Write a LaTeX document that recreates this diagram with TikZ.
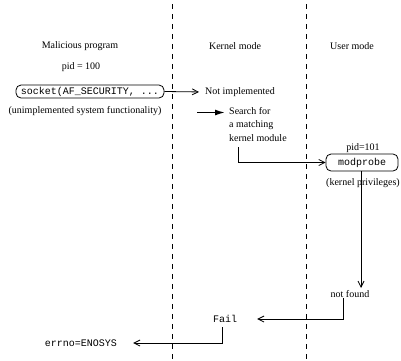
\documentclass[tikz,border=0pt]{standalone}
\usepackage{fontspec}
\setmainfont{Liberation Serif}
\setmonofont{Liberation Mono}
\usetikzlibrary{arrows.meta}
\begin{document}
\begin{tikzpicture}[x=1pt,y=-1pt,
 lbl/.style={font=\fontsize{10}{13.5}\selectfont, inner sep=1pt},
 ttl/.style={font=\fontsize{10}{12}\selectfont\ttfamily, inner sep=1pt},
 box/.style={draw, rounded corners=5pt, line width=0.8pt, font=\fontsize{10}{12}\selectfont\ttfamily, inner sep=0pt},
 conn/.style={line width=0.8pt, -{Straight Barb[length=6pt,width=6pt]}},
 lane/.style={dash pattern=on 5pt off 5pt, line width=0.8pt},
 bigarrow/.style={line width=1.5pt, -{Latex[length=10pt,width=6pt]}}
]
\useasboundingbox (0,0) rectangle (401,360);
\draw[lane] (172,4) -- (172,360);
\draw[lane] (306,4) -- (306,360);

\node[lbl] (mal) at (80,46) {Malicious program};
\node[lbl] (ker) at (235,46) {Kernel mode};
\node[lbl] (usr) at (352,46) {User mode};

\node[lbl] (pid1) at (81,67) {pid = 100};
\node[box, minimum width=148pt, minimum height=13pt] (sock) at (90,91.5) {socket(AF\_SECURITY, ...};
\node[lbl] (unimpl) at (85,111) {(unimplemented system functionality)};

\node[lbl, anchor=west] (notimpl) at (204,92) {Not implemented};
\draw[conn, shorten >=5pt] (sock.east) -- (notimpl.west);

\coordinate (ta) at (197,112.5);
\node[lbl, anchor=north west, align=left] (search) at (228,106) {Search for\\a matching\\kernel module};
\draw[bigarrow, shorten >=3pt] (ta) -- (search.west |- ta);

\node[box, minimum width=72pt, minimum height=17pt] (mod) at (362,162.5) {modprobe};
\node[lbl] (pid2) at (363,148) {pid=101};
\node[lbl] (kpriv) at (363,183) {(kernel privileges)};

\coordinate (s1) at (238,147);
\draw[conn] (s1) |- (mod.west);

\node[lbl] (nf) at (350,294) {not found};
\draw[conn] (361,171) -- (361,288);

\node[ttl] (fail) at (225,319) {Fail};
\coordinate (n1) at (343,298);
\draw[conn] (n1) |- ([xshift=19pt]fail.east);

\node[ttl] (errno) at (81,343) {errno=ENOSYS};
\coordinate (f1) at (222,327);
\draw[conn] (f1) |- ([xshift=15pt]errno.east);
\end{tikzpicture}
\end{document}
